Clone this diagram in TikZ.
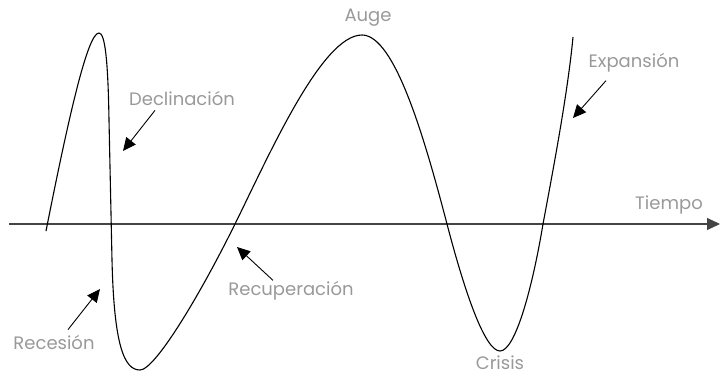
\documentclass[tikz,border=0pt]{standalone}
\usepackage{fontspec}
\setmainfont{Poppins}
\definecolor{labelgray}{HTML}{999999}
\definecolor{axisgray}{HTML}{444444}
\usepackage{tikz}
\usetikzlibrary{arrows.meta,calc,positioning}

\begin{document}
\begin{tikzpicture}[x=1pt,y=-1pt,>={Triangle[length=13pt,width=12pt]},
  lbl/.style={text=labelgray,font=\fontsize{18}{21}\selectfont,inner sep=1pt},
  pointer/.style={->,line width=0.9pt,black}]
  \useasboundingbox (0,0) rectangle (720,377);
  % time axis
  \coordinate (t0) at (9,224);
  \coordinate (t1) at (720,224);
  \draw[->,line width=1.1pt,axisgray] (t0) -- (t1);
  \node[lbl] (tiempo) at (669,205) {Tiempo};
  % business cycle
  \draw[line width=1.1pt,black] (46,231) .. controls (70,110) and (88,33) .. (99,33)
    .. controls (105,33) and (108,60) .. (109,120)
    -- (112,260) .. controls (114,345) and (124,370) .. (140,370)
    .. controls (155,370) and (200,295) .. (235,224)
    .. controls (270,153) and (322,35) .. (362,35)
    .. controls (395,35) and (425,140) .. (447,224)
    .. controls (465,293) and (485,351) .. (500,351)
    .. controls (515,351) and (532,290) .. (543,224)
    .. controls (555,160) and (568,90) .. (573,37);
  \coordinate (declTip) at (123,151);
  \coordinate (recTip) at (100,289);
  \coordinate (recupTip) at (237,247);
  \coordinate (expTip) at (573,118);
  \node[lbl] (auge) at (368,18) {Auge};
  \node[lbl] (decl) at (182,98) {Declinación};
  \node[lbl] (exp) at (634,63) {Expansión};
  \node[lbl] (rec) at (54,342) {Recesión};
  \node[lbl] (recup) at (291,291) {Recuperación};
  \node[lbl] (crisis) at (500,363) {Crisis};
  \draw[pointer] ($(decl.south)+(-27,4)$) -- (declTip);
  \draw[pointer] ($(exp.south)+(-28,7)$) -- (expTip);
  \draw[pointer] ($(rec.north)+(14,-4)$) -- (recTip);
  \draw[pointer] ($(recup.north)+(-18,0)$) -- (recupTip);
\end{tikzpicture}
\end{document}
